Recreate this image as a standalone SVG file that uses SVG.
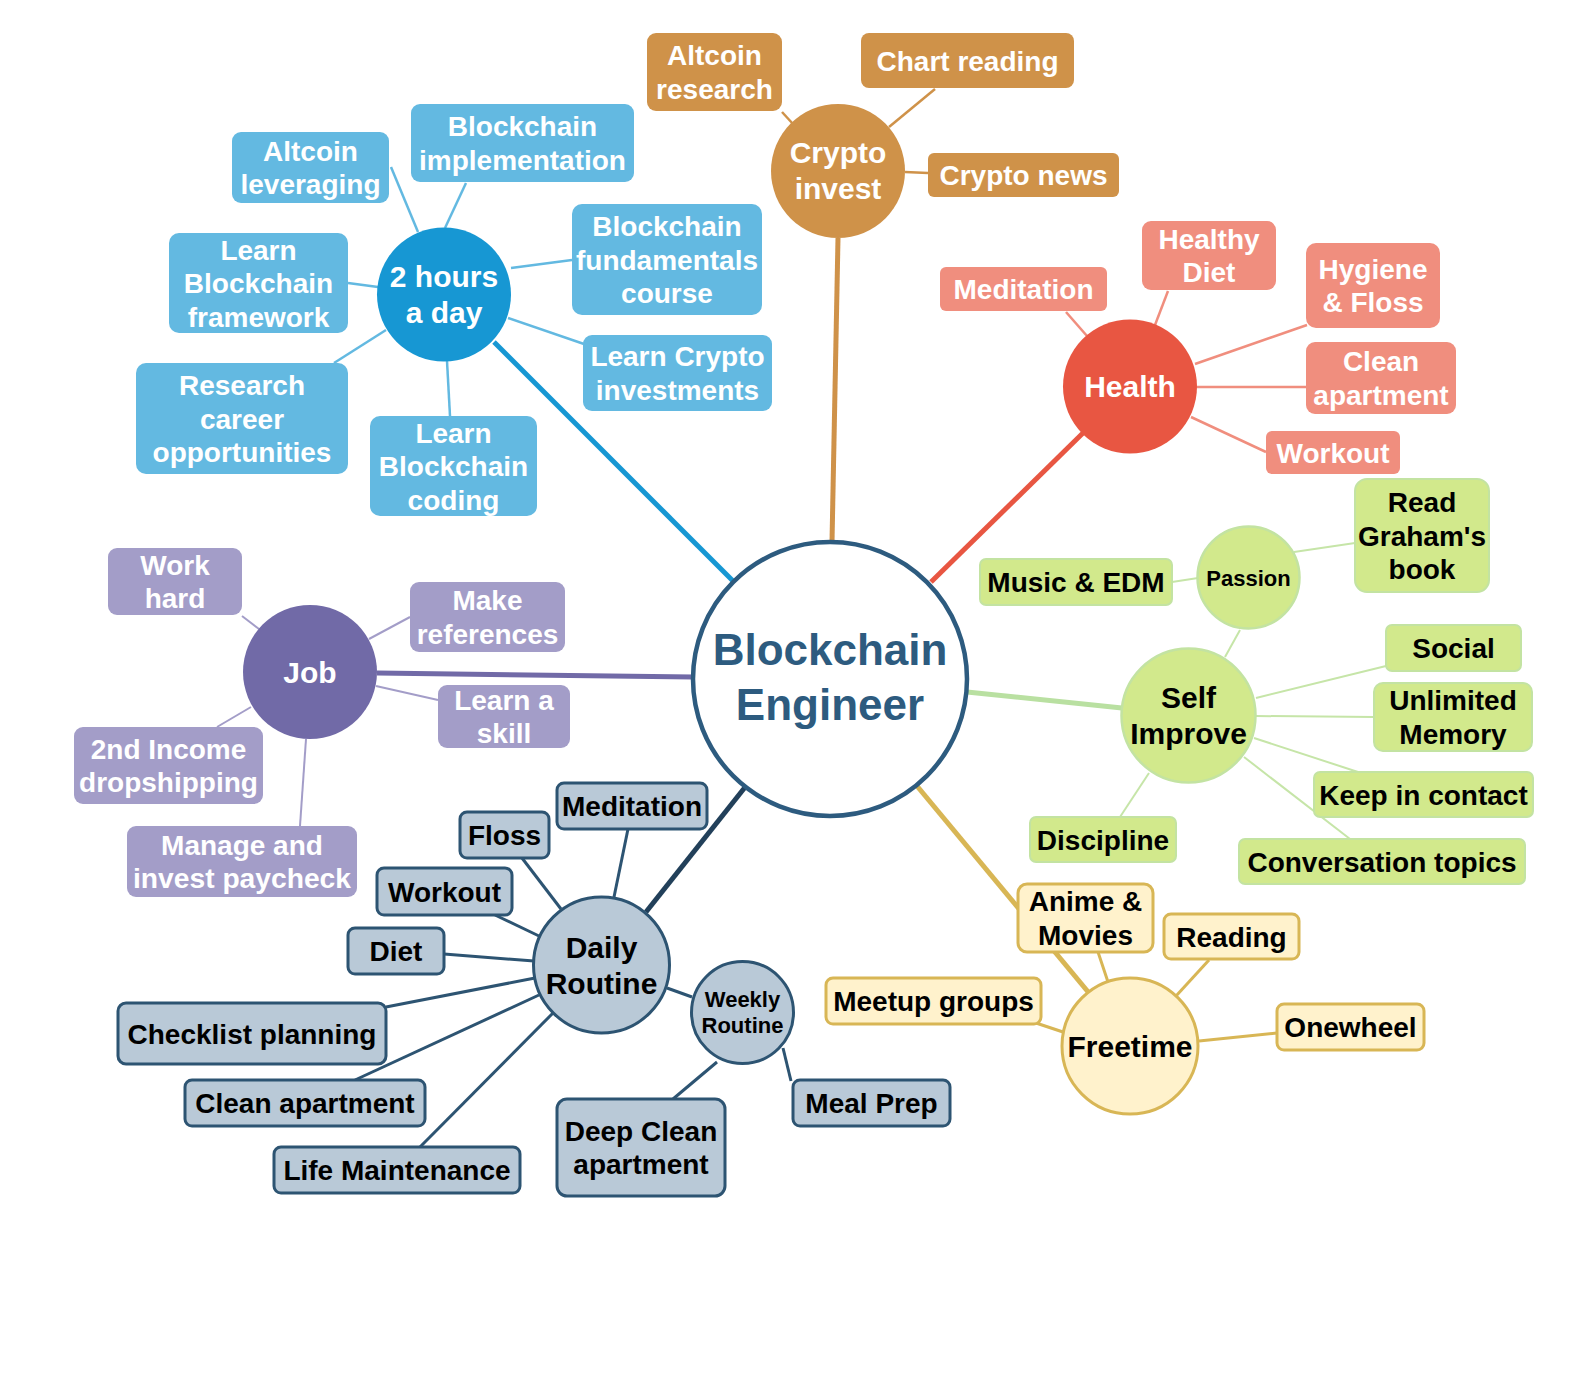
<svg xmlns="http://www.w3.org/2000/svg" width="1590" height="1375" viewBox="0 0 1590 1375">
<style>
text{font-family:"Liberation Sans",Arial,sans-serif;font-weight:bold;text-anchor:middle}
.t28{font-size:28px}
.t30{font-size:30px}
.t22{font-size:22px}
.w{fill:#ffffff}
.k{fill:#000000}
.blue{fill:#63b9e1}
.crypto{fill:#cf9249}
.health{fill:#f08e7e}
.green{fill:#d2e98c;stroke:#c3e3a2;stroke-width:2}
.job{fill:#a39dc8}
.daily{fill:#b9c9d7;stroke:#2d5472;stroke-width:3}
.free{fill:#fff2cc;stroke:#d8b655;stroke-width:3}
.cb{stroke:#63b9e1;stroke-width:2.5;fill:none}
.cc{stroke:#cf9249;stroke-width:2.5;fill:none}
.ch{stroke:#f08e7e;stroke-width:2.5;fill:none}
.cg{stroke:#c6e5a8;stroke-width:2;fill:none}
.cj{stroke:#a39dc8;stroke-width:2;fill:none}
.cd{stroke:#2d5472;stroke-width:3;fill:none}
.cf{stroke:#d8b655;stroke-width:3;fill:none}
</style>
<rect width="1590" height="1375" fill="#ffffff"/>
<g id="connectors">
  <!-- main branches -->
  <line x1="494" y1="342" x2="734" y2="582" stroke="#1797d3" stroke-width="5"/>
  <line x1="838" y1="238" x2="832" y2="542" stroke="#cf9249" stroke-width="5"/>
  <line x1="1083" y1="433" x2="931" y2="582" stroke="#e85642" stroke-width="5"/>
  <line x1="967" y1="692" x2="1122" y2="708" stroke="#b9e0a1" stroke-width="5"/>
  <line x1="377" y1="673" x2="693" y2="677" stroke="#716aa7" stroke-width="5"/>
  <line x1="746" y1="786" x2="646" y2="912" stroke="#22405a" stroke-width="5"/>
  <line x1="917" y1="786" x2="1089" y2="993" stroke="#d8b655" stroke-width="5"/>
  <!-- 2 hours a day -->
  <line class="cb" x1="391" y1="167" x2="418" y2="232"/>
  <line class="cb" x1="466" y1="183" x2="445" y2="228"/>
  <line class="cb" x1="572" y1="260" x2="511" y2="268"/>
  <line class="cb" x1="584" y1="344" x2="508" y2="318"/>
  <line class="cb" x1="450" y1="416" x2="447" y2="361"/>
  <line class="cb" x1="334" y1="363" x2="386" y2="330"/>
  <line class="cb" x1="348" y1="283" x2="378" y2="287"/>
  <!-- crypto -->
  <line class="cc" x1="782" y1="112" x2="793" y2="124"/>
  <line class="cc" x1="935" y1="89" x2="889" y2="127"/>
  <line class="cc" x1="928" y1="173" x2="905" y2="172"/>
  <!-- health -->
  <line class="ch" x1="1066" y1="312" x2="1087" y2="336"/>
  <line class="ch" x1="1168" y1="291" x2="1155" y2="325"/>
  <line class="ch" x1="1307" y1="325" x2="1195" y2="364"/>
  <line class="ch" x1="1306" y1="387" x2="1197" y2="387"/>
  <line class="ch" x1="1266" y1="452" x2="1191" y2="417"/>
  <!-- self improve -->
  <line class="cg" x1="1172" y1="582" x2="1198" y2="578"/>
  <line class="cg" x1="1294" y1="552" x2="1355" y2="543"/>
  <line class="cg" x1="1240" y1="630" x2="1225" y2="657"/>
  <line class="cg" x1="1256" y1="698" x2="1386" y2="666"/>
  <line class="cg" x1="1256" y1="716" x2="1374" y2="717"/>
  <line class="cg" x1="1254" y1="738" x2="1358" y2="772"/>
  <line class="cg" x1="1244" y1="757" x2="1350" y2="839"/>
  <line class="cg" x1="1149" y1="773" x2="1120" y2="817"/>
  <!-- job -->
  <line class="cj" x1="242" y1="616" x2="259" y2="629"/>
  <line class="cj" x1="410" y1="617" x2="369" y2="639"/>
  <line class="cj" x1="438" y1="700" x2="376" y2="686"/>
  <line class="cj" x1="217" y1="727" x2="251" y2="707"/>
  <line class="cj" x1="300" y1="826" x2="306" y2="739"/>
  <!-- daily routine -->
  <line class="cd" x1="628" y1="829" x2="614" y2="897"/>
  <line class="cd" x1="522" y1="858" x2="561" y2="909"/>
  <line class="cd" x1="495" y1="915" x2="539" y2="936"/>
  <line class="cd" x1="444" y1="954" x2="534" y2="961"/>
  <line class="cd" x1="386" y1="1007" x2="535" y2="978"/>
  <line class="cd" x1="355" y1="1080" x2="539" y2="995"/>
  <line class="cd" x1="420" y1="1147" x2="553" y2="1013"/>
  <line class="cd" x1="667" y1="988" x2="692" y2="997"/>
  <line class="cd" x1="717" y1="1062" x2="673" y2="1099"/>
  <line class="cd" x1="783" y1="1048" x2="791" y2="1081"/>
  <!-- freetime -->
  <line class="cf" x1="1098" y1="952" x2="1108" y2="982"/>
  <line class="cf" x1="1209" y1="960" x2="1176" y2="996"/>
  <line class="cf" x1="1036" y1="1023" x2="1063" y2="1032"/>
  <line class="cf" x1="1277" y1="1033" x2="1199" y2="1041"/>
</g>

<g id="center">
  <circle cx="830" cy="679" r="137" fill="#ffffff" stroke="#2d5b7f" stroke-width="4.5"/>
  <text x="830" y="665" style="font-size:44px" fill="#2d5b7f">Blockchain</text>
  <text x="830" y="720" style="font-size:44px" fill="#2d5b7f">Engineer</text>
</g>

<g id="two-hours">
  <circle cx="444" cy="294.5" r="67" fill="#1797d3"/>
  <text class="t30 w" x="444" y="287">2 hours</text>
  <text class="t30 w" x="444" y="323">a day</text>
</g>
<g id="altcoin-leveraging"><rect class="blue" x="232" y="132" width="157" height="71" rx="9"/><text class="t28 w" x="310.5" y="160.5">Altcoin</text><text class="t28 w" x="310.5" y="194">leveraging</text></g>
<g id="blockchain-implementation"><rect class="blue" x="411" y="104" width="223" height="78" rx="9"/><text class="t28 w" x="522.5" y="136">Blockchain</text><text class="t28 w" x="522.5" y="169.5">implementation</text></g>
<g id="blockchain-fundamentals"><rect class="blue" x="572" y="204" width="190" height="111" rx="10"/><text class="t28 w" x="667" y="236">Blockchain</text><text class="t28 w" x="667" y="269.5">fundamentals</text><text class="t28 w" x="667" y="303">course</text></g>
<g id="learn-crypto"><rect class="blue" x="583" y="335" width="189" height="76" rx="9"/><text class="t28 w" x="677.5" y="366">Learn Crypto</text><text class="t28 w" x="677.5" y="399.5">investments</text></g>
<g id="learn-coding"><rect class="blue" x="370" y="416" width="167" height="100" rx="10"/><text class="t28 w" x="453.5" y="442.5">Learn</text><text class="t28 w" x="453.5" y="476">Blockchain</text><text class="t28 w" x="453.5" y="509.5">coding</text></g>
<g id="research-career"><rect class="blue" x="136" y="363" width="212" height="111" rx="10"/><text class="t28 w" x="242" y="395">Research</text><text class="t28 w" x="242" y="428.5">career</text><text class="t28 w" x="242" y="462">opportunities</text></g>
<g id="learn-framework"><rect class="blue" x="169" y="233" width="179" height="100" rx="10"/><text class="t28 w" x="258.5" y="259.5">Learn</text><text class="t28 w" x="258.5" y="293">Blockchain</text><text class="t28 w" x="258.5" y="326.5">framework</text></g>

<g id="crypto-invest">
  <circle cx="838" cy="171" r="67" fill="#cf9249"/>
  <text class="t30 w" x="838" y="163">Crypto</text>
  <text class="t30 w" x="838" y="199">invest</text>
</g>
<g id="altcoin-research"><rect class="crypto" x="647" y="33" width="135" height="78" rx="9"/><text class="t28 w" x="714.5" y="65">Altcoin</text><text class="t28 w" x="714.5" y="98.5">research</text></g>
<g id="chart-reading"><rect class="crypto" x="861" y="33" width="213" height="55" rx="8"/><text class="t28 w" x="967.5" y="70.5">Chart reading</text></g>
<g id="crypto-news"><rect class="crypto" x="928" y="153" width="191" height="44" rx="6"/><text class="t28 w" x="1023.5" y="185">Crypto news</text></g>

<g id="health">
  <circle cx="1130" cy="386.5" r="67" fill="#e85642"/>
  <text class="t30 w" x="1130" y="397">Health</text>
</g>
<g id="h-meditation"><rect class="health" x="940" y="267" width="167" height="44" rx="6"/><text class="t28 w" x="1023.5" y="299">Meditation</text></g>
<g id="healthy-diet"><rect class="health" x="1142" y="221" width="134" height="69" rx="9"/><text class="t28 w" x="1209" y="248.5">Healthy</text><text class="t28 w" x="1209" y="282">Diet</text></g>
<g id="hygiene-floss"><rect class="health" x="1306" y="243" width="134" height="85" rx="10"/><text class="t28 w" x="1373" y="278.5">Hygiene</text><text class="t28 w" x="1373" y="312">&amp; Floss</text></g>
<g id="h-clean-apartment"><rect class="health" x="1306" y="342" width="150" height="72" rx="9"/><text class="t28 w" x="1381" y="371">Clean</text><text class="t28 w" x="1381" y="404.5">apartment</text></g>
<g id="h-workout"><rect class="health" x="1266" y="431" width="134" height="43" rx="6"/><text class="t28 w" x="1333" y="462.5">Workout</text></g>

<g id="self-improve">
  <circle cx="1188.5" cy="715.5" r="67" fill="#d2e98c" stroke="#c3e3a2" stroke-width="2.5"/>
  <text class="t30 k" x="1188.5" y="708">Self</text>
  <text class="t30 k" x="1188.5" y="744">Improve</text>
</g>
<g id="passion">
  <circle cx="1248.5" cy="577.5" r="51" fill="#d2e98c" stroke="#c3e3a2" stroke-width="2.5"/>
  <text class="t22 k" x="1248.5" y="585.5">Passion</text>
</g>
<g id="music-edm"><rect class="green" x="980" y="559" width="192" height="46" rx="6"/><text class="t28 k" x="1076" y="592">Music &amp; EDM</text></g>
<g id="read-graham"><rect class="green" x="1355" y="479" width="134" height="113" rx="12"/><text class="t28 k" x="1422" y="512">Read</text><text class="t28 k" x="1422" y="545.5">Graham's</text><text class="t28 k" x="1422" y="579">book</text></g>
<g id="social"><rect class="green" x="1386" y="625" width="135" height="46" rx="6"/><text class="t28 k" x="1453.5" y="658">Social</text></g>
<g id="unlimited-memory"><rect class="green" x="1374" y="683" width="158" height="68" rx="9"/><text class="t28 k" x="1453" y="710">Unlimited</text><text class="t28 k" x="1453" y="743.5">Memory</text></g>
<g id="keep-in-contact"><rect class="green" x="1314" y="772" width="219" height="45" rx="6"/><text class="t28 k" x="1423.5" y="804.5">Keep in contact</text></g>
<g id="conversation-topics"><rect class="green" x="1239" y="839" width="286" height="45" rx="6"/><text class="t28 k" x="1382" y="871.5">Conversation topics</text></g>
<g id="discipline"><rect class="green" x="1030" y="817" width="146" height="45" rx="6"/><text class="t28 k" x="1103" y="849.5">Discipline</text></g>

<g id="job">
  <circle cx="310" cy="672" r="67" fill="#716aa7"/>
  <text class="t30 w" x="310" y="682.5">Job</text>
</g>
<g id="work-hard"><rect class="job" x="108" y="548" width="134" height="67" rx="9"/><text class="t28 w" x="175" y="574.5">Work</text><text class="t28 w" x="175" y="608">hard</text></g>
<g id="make-references"><rect class="job" x="410" y="582" width="155" height="70" rx="9"/><text class="t28 w" x="487.5" y="610">Make</text><text class="t28 w" x="487.5" y="643.5">references</text></g>
<g id="learn-a-skill"><rect class="job" x="438" y="685" width="132" height="63" rx="9"/><text class="t28 w" x="504" y="709.5">Learn a</text><text class="t28 w" x="504" y="743">skill</text></g>
<g id="second-income"><rect class="job" x="74" y="727" width="189" height="77" rx="9"/><text class="t28 w" x="168.5" y="758.5">2nd Income</text><text class="t28 w" x="168.5" y="792">dropshipping</text></g>
<g id="manage-paycheck"><rect class="job" x="127" y="826" width="230" height="71" rx="9"/><text class="t28 w" x="242" y="854.5">Manage and</text><text class="t28 w" x="242" y="888" textLength="218" lengthAdjust="spacingAndGlyphs">invest paycheck</text></g>

<g id="daily-routine">
  <circle cx="601.5" cy="965" r="68" fill="#b9c9d7" stroke="#2d5472" stroke-width="3"/>
  <text class="t30 k" x="601.5" y="957.5">Daily</text>
  <text class="t30 k" x="601.5" y="993.5">Routine</text>
</g>
<g id="weekly-routine">
  <circle cx="742.5" cy="1012.5" r="51" fill="#b9c9d7" stroke="#2d5472" stroke-width="3"/>
  <text class="t22 k" x="742.5" y="1006.5">Weekly</text>
  <text class="t22 k" x="742.5" y="1033">Routine</text>
</g>
<g id="d-meditation"><rect class="daily" x="557" y="783" width="150" height="46" rx="7"/><text class="t28 k" x="632" y="816">Meditation</text></g>
<g id="floss"><rect class="daily" x="460" y="812" width="89" height="46" rx="7"/><text class="t28 k" x="504.5" y="845">Floss</text></g>
<g id="d-workout"><rect class="daily" x="377" y="868" width="135" height="47" rx="7"/><text class="t28 k" x="444.5" y="901.5">Workout</text></g>
<g id="diet"><rect class="daily" x="348" y="928" width="96" height="46" rx="7"/><text class="t28 k" x="396" y="961">Diet</text></g>
<g id="checklist-planning"><rect class="daily" x="118" y="1003" width="268" height="61" rx="8"/><text class="t28 k" x="252" y="1043.5">Checklist planning</text></g>
<g id="d-clean-apartment"><rect class="daily" x="185" y="1080" width="240" height="46" rx="7"/><text class="t28 k" x="305" y="1113">Clean apartment</text></g>
<g id="life-maintenance"><rect class="daily" x="274" y="1147" width="246" height="46" rx="7"/><text class="t28 k" x="397" y="1180">Life Maintenance</text></g>
<g id="deep-clean"><rect class="daily" x="557" y="1099" width="168" height="97" rx="10"/><text class="t28 k" x="641" y="1140.5">Deep Clean</text><text class="t28 k" x="641" y="1174">apartment</text></g>
<g id="meal-prep"><rect class="daily" x="793" y="1080" width="157" height="46" rx="7"/><text class="t28 k" x="871.5" y="1113">Meal Prep</text></g>

<g id="freetime">
  <circle cx="1130" cy="1046" r="68" fill="#fff2cc" stroke="#d8b655" stroke-width="3"/>
  <text class="t30 k" x="1130" y="1056.5">Freetime</text>
</g>
<g id="anime-movies"><rect class="free" x="1018" y="884" width="135" height="68" rx="9"/><text class="t28 k" x="1085.5" y="911">Anime &amp;</text><text class="t28 k" x="1085.5" y="944.5">Movies</text></g>
<g id="reading"><rect class="free" x="1164" y="914" width="135" height="45" rx="7"/><text class="t28 k" x="1231.5" y="946.5">Reading</text></g>
<g id="meetup-groups"><rect class="free" x="826" y="978" width="215" height="46" rx="7"/><text class="t28 k" x="933.5" y="1011">Meetup groups</text></g>
<g id="onewheel"><rect class="free" x="1277" y="1004" width="147" height="46" rx="7"/><text class="t28 k" x="1350.5" y="1037">Onewheel</text></g>
</svg>
